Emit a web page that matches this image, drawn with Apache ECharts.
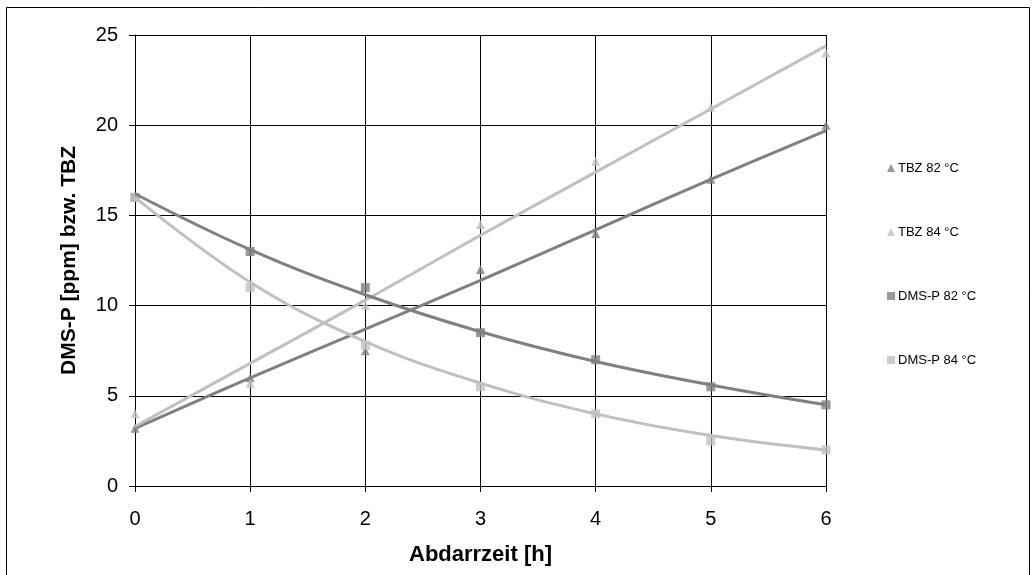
<!DOCTYPE html>
<html>
<head>
<meta charset="utf-8">
<script src="https://cdn.jsdelivr.net/npm/echarts@6/dist/echarts.min.js"></script>
<style>html,body{margin:0;padding:0;background:#fff}#c{width:1032px;height:575px}</style>
</head>
<body>
<div id="c"></div>
<script>
// Abdarrzeit [h]
const hours = [0, 1, 2, 3, 4, 5, 6];
// measured points
const tbz82 = [3.2, 6.0, 7.5, 12.0, 14.0, 17.0, 20.0];
const tbz84 = [4.0, 5.7, 10.0, 14.5, 18.0, 21.0, 24.0];
const dms82 = [16.0, 13.0, 11.0, 8.5, 7.0, 5.5, 4.5];
const dms84 = [16.0, 11.0, 7.8, 5.5, 4.0, 2.5, 2.0];
// trend lines
const tbz82Trend = [3.2, 6.0, 8.7, 11.4, 14.2, 17.0, 19.7];
const tbz84Trend = [3.3, 6.8, 10.3, 13.9, 17.4, 20.9, 24.4];
const dms82Trend = [16.2, 13.1, 10.6, 8.55, 6.9, 5.6, 4.5];
const dms84Trend = [16.0, 11.3, 8.0, 5.7, 4.0, 2.8, 2.0];
const seriesNames = ['TBZ 82 °C', 'TBZ 84 °C', 'DMS-P 82 °C', 'DMS-P 84 °C'];
const yTicks = [0, 5, 10, 15, 20, 25];

const DARK = '#808080', LIGHT = '#c0c0c0';
const pairs = (xs, ys) => xs.map((x, i) => [x, ys[i]]);

const chart = echarts.init(document.getElementById('c'));
const font = 'Liberation Sans, Arial, sans-serif';

function trend(data, color) {
  return {type: 'line', data: pairs(hours, data), smooth: 0.4, symbol: 'none',
    lineStyle: {color: color, width: 3}, z: 3, silent: true, legendHoverLink: false};
}
function pts(name, data, color, symbol) {
  return {type: 'scatter', name: name, data: pairs(hours, data), symbol: symbol,
    symbolSize: 9, itemStyle: {color: color}, z: 2};
}

chart.setOption({
  animation: false,
  textStyle: {fontFamily: font},
  graphic: [{type: 'rect', shape: {x: 6.5, y: 7.5, width: 1023, height: 580},
    style: {fill: 'none', stroke: '#000', lineWidth: 1}, z: -1}],
  grid: {left: 135, right: 206, top: 35, bottom: 89},
  legend: {
    orient: 'vertical', left: 882, top: 156, itemGap: 50, itemWidth: 8, itemHeight: 8,
    data: [
      {name: seriesNames[0], icon: 'triangle'},
      {name: seriesNames[1], icon: 'triangle'},
      {name: seriesNames[2], icon: 'rect'},
      {name: seriesNames[3], icon: 'rect'}
    ],
    itemStyle: {borderWidth: 0},
    textStyle: {fontSize: 13, lineHeight: 14, color: '#000', fontFamily: font, padding: [0, 0, 0, -2]}
  },
  xAxis: {
    type: 'value', min: 0, max: 6, interval: 1,
    name: 'Abdarrzeit [h]', nameLocation: 'middle', nameGap: 58,
    nameTextStyle: {fontSize: 22, fontWeight: 'bold', color: '#000', fontFamily: font},
    axisLine: {show: true, onZero: false, lineStyle: {color: '#000', width: 1}},
    axisTick: {show: true, length: 6, lineStyle: {color: '#000'}},
    axisLabel: {fontSize: 20, color: '#000', margin: 23, fontFamily: font},
    splitLine: {show: true, lineStyle: {color: '#000', width: 1}}
  },
  yAxis: {
    type: 'value', min: yTicks[0], max: yTicks[yTicks.length - 1], interval: 5,
    name: 'DMS-P [ppm] bzw. TBZ', nameLocation: 'middle', nameGap: 55, nameRotate: 90,
    nameTextStyle: {fontSize: 21, fontWeight: 'bold', color: '#000', fontFamily: font},
    axisLine: {show: true, lineStyle: {color: '#000', width: 1}},
    axisTick: {show: true, length: 6, lineStyle: {color: '#000'}},
    axisLabel: {fontSize: 20, color: '#000', margin: 17, fontFamily: font},
    splitLine: {show: true, lineStyle: {color: '#000', width: 1}}
  },
  series: [
    pts(seriesNames[0], tbz82, DARK, 'triangle'),
    pts(seriesNames[1], tbz84, LIGHT, 'triangle'),
    pts(seriesNames[2], dms82, DARK, 'rect'),
    pts(seriesNames[3], dms84, LIGHT, 'rect'),
    trend(tbz82Trend, DARK),
    trend(tbz84Trend, LIGHT),
    trend(dms82Trend, DARK),
    trend(dms84Trend, LIGHT)
  ]
});
</script>
</body>
</html>
